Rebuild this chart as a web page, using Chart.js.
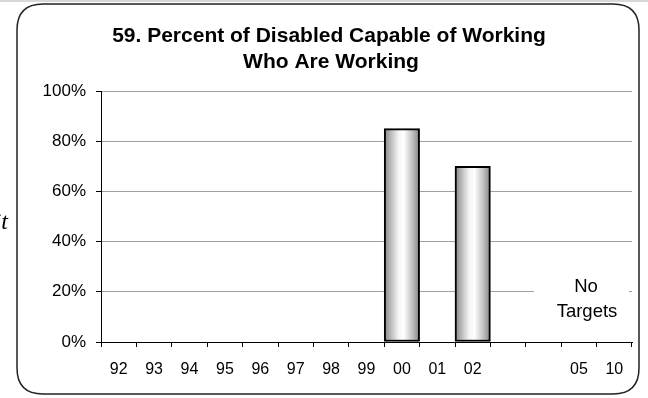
<!DOCTYPE html>
<html>
<head>
<meta charset="utf-8">
<script src="https://cdn.jsdelivr.net/npm/chart.js@4/dist/chart.umd.min.js"></script>
<style>
html,body{margin:0;padding:0;background:#fff;}
canvas{display:block;}
</style>
</head>
<body>
<canvas id="c" width="648" height="398"></canvas>
<script>
const titleLines = ['59. Percent of Disabled Capable of Working', 'Who Are Working'];
const categories = ['92','93','94','95','96','97','98','99','00','01','02','','','05','10'];
const percentWorking = [null,null,null,null,null,null,null,null,85,null,70,null,null,null,null];
const yTicks = [0,20,40,60,80,100];
const noteLines = ['No', 'Targets'];
const sideText = 'it';

const FONT = '"Liberation Sans", Arial, sans-serif';

function barGradient(ctx) {
  const chart = ctx.chart;
  if (!chart.chartArea) return '#ccc';
  const xs = chart.scales.x;
  const cx = xs.getPixelForValue(ctx.dataIndex);
  const w = xs.width / categories.length;
  const g = chart.ctx.createLinearGradient(cx - w/2, 0, cx + w/2, 0);
  g.addColorStop(0, '#858585');
  g.addColorStop(0.15, '#b0b0b0');
  g.addColorStop(0.4, '#f4f4f4');
  g.addColorStop(0.55, '#ffffff');
  g.addColorStop(0.8, '#c0c0c0');
  g.addColorStop(1, '#838383');
  return g;
}

const decor = {
  id: 'decor',
  beforeDraw(chart) {
    const c = chart.ctx;
    c.save();
    c.fillStyle = '#fff';
    c.fillRect(0, 0, chart.width, chart.height);
    c.fillStyle = '#d8d8d8';
    c.fillRect(0, 0, chart.width, 2);
    const x0 = 17, y0 = 4, x1 = 639, y1 = 394, r = 26;
    c.beginPath();
    c.moveTo(x0 + r, y0);
    c.lineTo(x1 - r, y0);
    c.quadraticCurveTo(x1, y0, x1, y0 + r);
    c.lineTo(x1, y1 - r);
    c.quadraticCurveTo(x1, y1, x1 - r, y1);
    c.lineTo(x0 + r, y1);
    c.quadraticCurveTo(x0, y1, x0, y1 - r);
    c.lineTo(x0, y0 + r);
    c.quadraticCurveTo(x0, y0, x0 + r, y0);
    c.closePath();
    c.lineWidth = 1.5;
    c.strokeStyle = '#222';
    c.stroke();
    c.restore();
  },
  afterDatasetsDraw(chart) {
    const c = chart.ctx;
    c.save();
    c.fillStyle = '#fff';
    c.fillRect(534, 262, 95, 66);
    c.fillStyle = '#000';
    c.font = '18.5px ' + FONT;
    c.textAlign = 'center';
    c.textBaseline = 'middle';
    c.fillText(noteLines[0], 586, 287);
    c.fillText(noteLines[1], 587, 312);
    c.restore();
  },
  afterDraw(chart) {
    const c = chart.ctx;
    c.save();
    c.fillStyle = '#000';
    c.font = 'bold 21px ' + FONT;
    c.textAlign = 'center';
    c.textBaseline = 'middle';
    c.fillText(titleLines[0], 329, 36);
    c.fillText(titleLines[1], 331, 62);
    c.font = 'italic 24px "Liberation Serif", "Times New Roman", serif';
    c.textAlign = 'right';
    c.fillText(sideText, 8, 223);
    c.restore();
  }
};

new Chart(document.getElementById('c'), {
  type: 'bar',
  data: {
    labels: categories,
    datasets: [{
      data: percentWorking,
      backgroundColor: barGradient,
      borderColor: '#000',
      borderWidth: 2,
      borderSkipped: false,
      categoryPercentage: 1,
      barPercentage: 1
    }]
  },
  options: {
    responsive: false,
    animation: false,
    layout: { padding: { left: 0, right: 16, top: 91, bottom: 0 } },
    plugins: { legend: { display: false }, tooltip: { enabled: false }, title: { display: false } },
    scales: {
      x: {
        offset: true,
        afterFit(s) { s.height = 56; },
        grid: { display: true, drawOnChartArea: false, offset: true, tickLength: 5, tickColor: '#000', lineWidth: 1 },
        border: { display: true, color: '#000', width: 1 },
        ticks: { autoSkip: false, maxRotation: 0, color: '#000', font: { family: FONT, size: 16 }, padding: 13 }
      },
      y: {
        min: 0, max: 100,
        afterFit(s) { s.width = 101; },
        afterBuildTicks(s) { s.ticks = yTicks.map(v => ({ value: v })); },
        grid: { color: '#a0a0a0', lineWidth: 1, tickLength: 5, tickColor: '#000' },
        border: { display: true, color: '#000', width: 1 },
        ticks: { color: '#000', font: { family: FONT, size: 17 }, padding: 10, callback: v => v + '%' }
      }
    }
  },
  plugins: [decor]
});
</script>
</body>
</html>
